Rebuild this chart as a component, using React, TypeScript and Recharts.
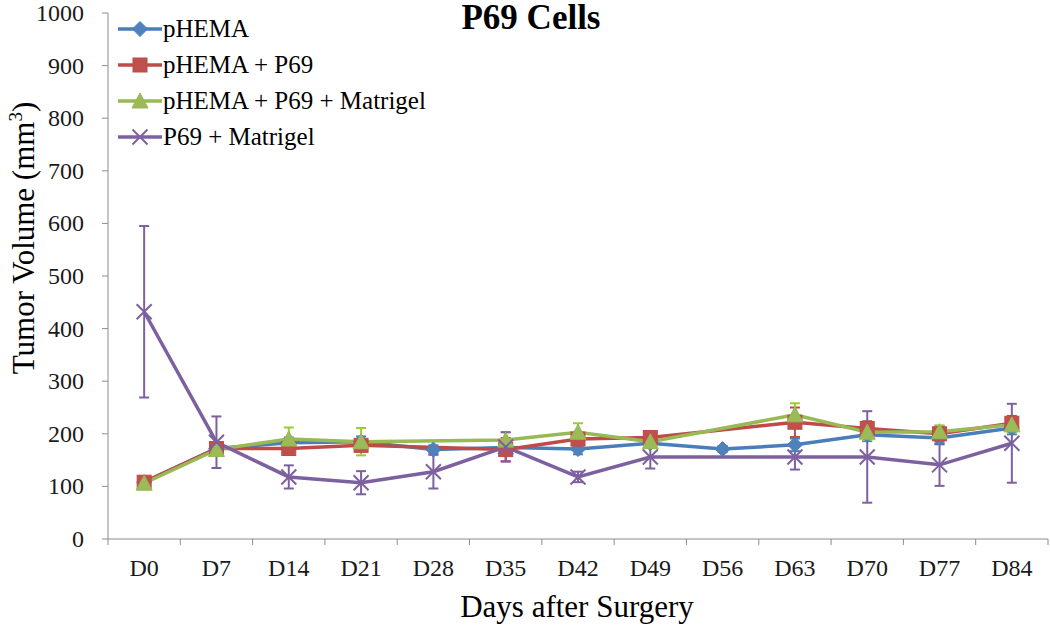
import { ErrorBar, Label, Legend, Line, LineChart, XAxis, YAxis } from "recharts";

const days = ["D0", "D7", "D14", "D21", "D28", "D35", "D42", "D49", "D56", "D63", "D70", "D77", "D84"];

const phema = [108, 172, 183, 185, 170, 174, 171, 182, 171, 179, 198, 192, 211];
const phemaErr = [6, 8, 10, 10, 8, 8, 10, 8, 6, 12, 12, 12, 12];

const phemaP69 = [108, 172, 172, 178, null, 170, 190, 193, null, 222, 210, 200, 220];
const phemaP69Err = [8, 10, 12, 10, null, 22, 12, 10, null, 28, 14, 15, 14];

const phemaP69Mat = [106, 170, 190, 185, null, 188, 203, 185, null, 236, 203, 204, 217];
const phemaP69MatErr = [6, 10, 22, 26, null, 15, 17, 10, null, 22, 15, 12, 15];

const p69Mat = [432, 184, 118, 107, 128, 175, 118, 156, null, 156, 156, 141, 182];
const p69MatErr = [163, 49, 22, 22, 32, 28, 10, 22, null, 24, 87, 40, 75];

const yTicks = [0, 100, 200, 300, 400, 500, 600, 700, 800, 900, 1000];

const rows = days.map((day, i) => ({
  day,
  a: phema[i],
  aErr: phemaErr[i],
  b: phemaP69[i],
  bErr: phemaP69Err[i],
  c: phemaP69Mat[i],
  cErr: phemaP69MatErr[i],
  d: p69Mat[i],
  dErr: p69MatErr[i],
}));

const FONT = "Liberation Serif, Times New Roman, serif";
const AXIS = "#8c8c8c";

const BLUE = "#4a7ebb";
const RED = "#be4b48";
const GREEN = "#98b954";
const PURPLE = "#7d60a0";

type Shape = "diamond" | "square" | "triangle" | "x";

function Marker({ shape, cx, cy, color }: { shape: Shape; cx: number; cy: number; color: string }) {
  if (shape === "diamond") {
    const r = 7.5;
    return <polygon points={`${cx},${cy - r} ${cx + r},${cy} ${cx},${cy + r} ${cx - r},${cy}`} fill="#4f81bd" stroke={color} strokeWidth={1} />;
  }
  if (shape === "square") {
    return <rect x={cx - 7} y={cy - 7} width={14} height={14} fill="#c0504d" stroke={color} strokeWidth={1} />;
  }
  if (shape === "triangle") {
    return <polygon points={`${cx},${cy - 8} ${cx + 8},${cy + 7} ${cx - 8},${cy + 7}`} fill="#9bbb59" stroke={color} strokeWidth={1} />;
  }
  const r = 7.5;
  return (
    <g stroke={color} strokeWidth={2}>
      <line x1={cx - r} y1={cy - r} x2={cx + r} y2={cy + r} />
      <line x1={cx - r} y1={cy + r} x2={cx + r} y2={cy - r} />
    </g>
  );
}

const dotFor = (shape: Shape, color: string) => (p: any) => {
  if (p.cy == null || p.value == null) return <g key={`n-${p.index}`} />;
  return (
    <g key={`m-${shape}-${p.index}`}>
      <Marker shape={shape} cx={p.cx} cy={p.cy} color={color} />
    </g>
  );
};

const legendItems: { name: string; shape: Shape; color: string }[] = [
  { name: "pHEMA", shape: "diamond", color: BLUE },
  { name: "pHEMA + P69", shape: "square", color: RED },
  { name: "pHEMA + P69 + Matrigel", shape: "triangle", color: GREEN },
  { name: "P69 + Matrigel", shape: "x", color: PURPLE },
];

function LegendBox() {
  return (
    <div style={{ fontFamily: FONT, fontSize: 25, color: "#000" }}>
      {legendItems.map((it) => (
        <div key={it.name} style={{ display: "flex", alignItems: "center", height: 36 }}>
          <svg width={46} height={20}>
            <line x1={1} y1={10} x2={45} y2={10} stroke={it.color} strokeWidth={3.5} />
            <Marker shape={it.shape} cx={23} cy={10} color={it.color} />
          </svg>
          <span style={{ whiteSpace: "nowrap", fontFamily: FONT }}>{it.name}</span>
        </div>
      ))}
    </div>
  );
}

function DayTick(props: any) {
  const { x, y, payload, index } = props;
  const half = payload.offset || 36.15;
  const top = y - 6;
  return (
    <g>
      <line x1={x - half} y1={top} x2={x - half} y2={top + 6} stroke={AXIS} />
      {index === days.length - 1 && <line x1={x + half} y1={top} x2={x + half} y2={top + 6} stroke={AXIS} />}
      <text x={x} y={top + 37} textAnchor="middle" style={{ fontFamily: FONT }} fontSize={24} fill="#1a1a1a">
        {payload.value}
      </text>
    </g>
  );
}

function ValueTick(props: any) {
  const { x, y, payload } = props;
  return (
    <text x={x} y={y + 8} textAnchor="end" style={{ fontFamily: FONT }} fontSize={24} fill="#1a1a1a">
      {payload.value}
    </text>
  );
}

export default function App() {
  return (
    <div style={{ position: "absolute", left: 0, top: 0, width: 1050, height: 627, background: "#fff", fontFamily: FONT }}>
      <div
        style={{
          position: "absolute",
          left: 0,
          top: 0,
          width: 1062,
          textAlign: "center",
          fontFamily: FONT,
          fontWeight: "bold",
          fontSize: 35,
          lineHeight: "36px",
          zIndex: 2,
        }}
      >
        P69 Cells
      </div>
      <LineChart width={1050} height={627} data={rows} margin={{ top: 13, right: 2, left: 0, bottom: 0 }} style={{ fontFamily: FONT }}>
        <XAxis
          dataKey="day"
          scale="band"
          height={88}
          stroke={AXIS}
          tickLine={false}
          tickSize={6}
          tickMargin={0}
          interval={0}
          tick={<DayTick />}
        >
          <Label
            content={() => (
              <text x={577} y={617} textAnchor="middle" style={{ fontFamily: FONT }} fontSize={31} fill="#000">
                Days after Surgery
              </text>
            )}
          />
        </XAxis>
        <YAxis
          width={108}
          domain={[0, 1000]}
          ticks={yTicks}
          interval={0}
          stroke={AXIS}
          tickSize={6}
          tickMargin={18}
          tick={<ValueTick />}
        >
          <Label
            content={() => (
              <text x={34} y={238} textAnchor="middle" style={{ fontFamily: FONT }} fontSize={31} fill="#000" transform="rotate(-90 34 238)">
                Tumor Volume (mm
                <tspan fontSize={19} dy={-12}>3</tspan>
                <tspan dy={12}>)</tspan>
              </text>
            )}
          />
        </YAxis>
        <Legend
          layout="horizontal"
          verticalAlign="middle"
          align="center"
          wrapperStyle={{ left: 117, top: 11, width: "auto", height: "auto" }}
          content={() => <LegendBox />}
        />
        <Line
          dataKey="a"
          stroke={BLUE}
          strokeWidth={3.5}
          connectNulls
          dot={dotFor("diamond", BLUE)}
          activeDot={false}
          isAnimationActive={false}
        >
          <ErrorBar dataKey="aErr" width={5} strokeWidth={2} stroke={BLUE} direction="y" />
        </Line>
        <Line
          dataKey="b"
          stroke={RED}
          strokeWidth={3.5}
          connectNulls
          dot={dotFor("square", RED)}
          activeDot={false}
          isAnimationActive={false}
        >
          <ErrorBar dataKey="bErr" width={5} strokeWidth={2} stroke={RED} direction="y" />
        </Line>
        <Line
          dataKey="c"
          stroke={GREEN}
          strokeWidth={3.5}
          connectNulls
          dot={dotFor("triangle", GREEN)}
          activeDot={false}
          isAnimationActive={false}
        >
          <ErrorBar dataKey="cErr" width={5} strokeWidth={2} stroke="#9acd32" direction="y" />
        </Line>
        <Line
          dataKey="d"
          stroke={PURPLE}
          strokeWidth={3.5}
          connectNulls
          dot={dotFor("x", PURPLE)}
          activeDot={false}
          isAnimationActive={false}
        >
          <ErrorBar dataKey="dErr" width={5} strokeWidth={2} stroke={PURPLE} direction="y" />
        </Line>
      </LineChart>
    </div>
  );
}
